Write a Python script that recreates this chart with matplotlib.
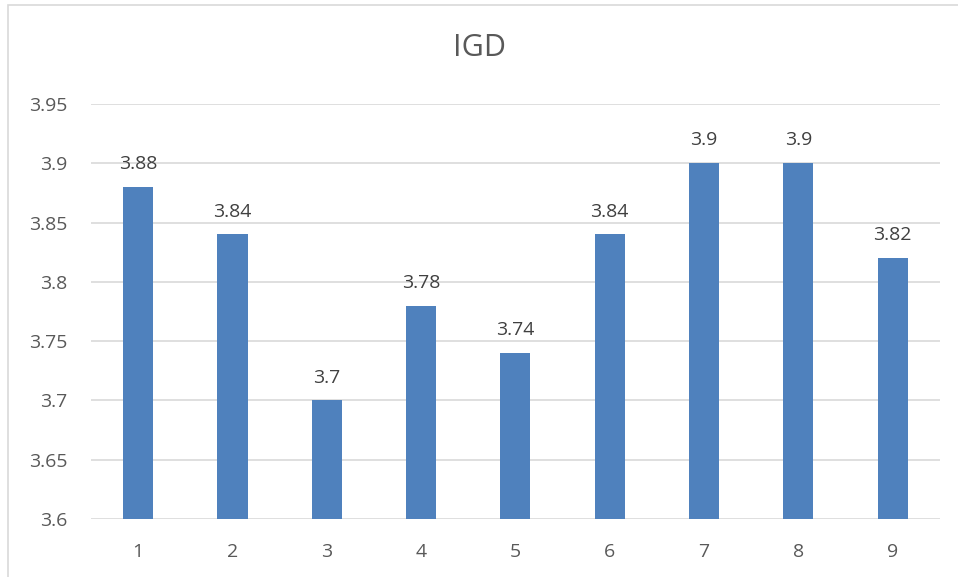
import matplotlib.pyplot as plt
from matplotlib.patches import Rectangle

#---Chart data
categories = ['1', '2', '3', '4', '5', '6', '7', '8', '9']
igd_values = [3.88, 3.84, 3.70, 3.78, 3.74, 3.84, 3.90, 3.90, 3.82]
y_ticks = [3.6, 3.65, 3.7, 3.75, 3.8, 3.85, 3.9, 3.95]
y_tick_labels = ['3.6', '3.65', '3.7', '3.75', '3.8', '3.85', '3.9', '3.95']

plt.rcParams['font.family'] = ['Open Sans', 'DejaVu Sans']
text_color = '#595959'

#---Plot Data
fig = plt.figure(figsize=(9.58, 5.77), dpi=100)
ax = fig.add_axes([0.095, 0.1005, 0.886, 0.7193])

x = list(range(len(categories)))
bars = ax.bar(x, igd_values, width=0.32, color='#4F81BD', zorder=3)

for xi, v in zip(x, igd_values):
    ax.annotate('%g' % v, (xi, v), xytext=(0, 10), textcoords='offset points',
                ha='center', va='bottom', fontsize=14, color='#404040')

ax.set_xlim(-0.5, len(categories) - 0.5)
ax.set_ylim(3.6, 3.95)
ax.set_xticks(x)
ax.set_xticklabels(categories)
ax.set_yticks(y_ticks)
ax.set_yticklabels(y_tick_labels)
ax.tick_params(axis='both', length=0, labelsize=14, colors=text_color)
ax.tick_params(axis='x', pad=17)
ax.tick_params(axis='y', pad=17)
ax.grid(True, axis='y', color='#D9D9D9', linewidth=1.2, zorder=0)
for s in ax.spines.values():
    s.set_visible(False)

fig.text(0.5, 1 - 48 / 577, 'IGD', ha='center', va='center', fontsize=22, color=text_color)

# outer chart border
fig.patches.append(Rectangle((8 / 958, -0.05), 1.1, 1.05 - 5 / 577,
                             transform=fig.transFigure, fill=False,
                             edgecolor='#D9D9D9', linewidth=1.2))

plt.savefig('out.png', dpi=100)
